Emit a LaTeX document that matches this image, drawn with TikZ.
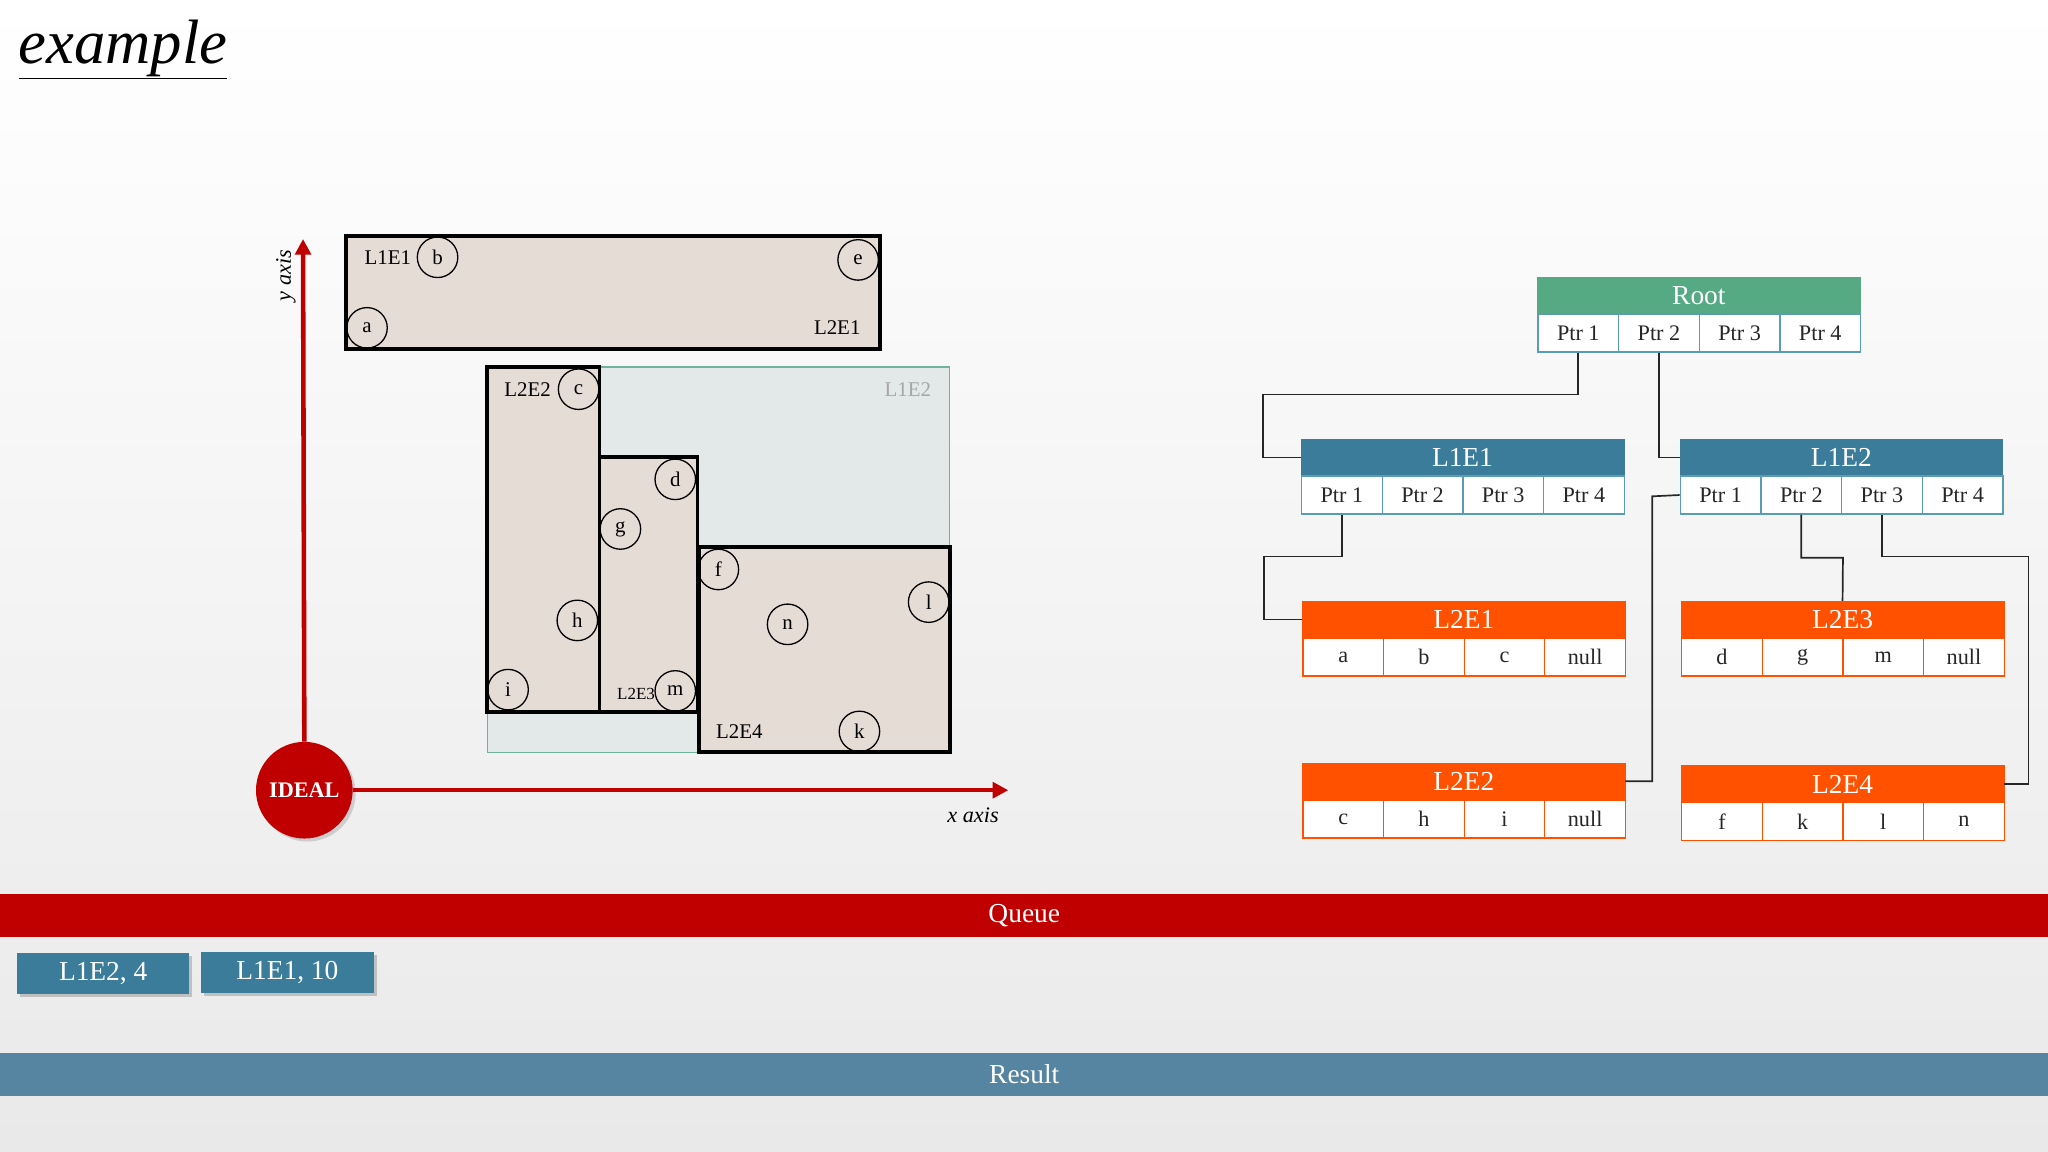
\documentclass[tikz,border=0pt]{standalone}
\usepackage{fontspec}
\setmainfont{Liberation Serif}
\usetikzlibrary{arrows.meta,shadows}
\definecolor{bgbot}{HTML}{E9E9E9}
\definecolor{redc}{HTML}{C00000}
\definecolor{greenh}{HTML}{55A983}
\definecolor{blueh}{HTML}{3B7C9B}
\definecolor{blueb}{HTML}{5A9BB8}
\definecolor{orah}{HTML}{FF5100}
\definecolor{resc}{HTML}{5585A0}
\definecolor{rectf}{HTML}{E6DCD6}
\definecolor{l1f}{HTML}{E3E8E9}
\definecolor{l1d}{HTML}{6FB39A}
\newcommand\tbox[9]{%
  \node[hdr,fill=#4,draw=#4] (#1-h) at (#2,#3) {#9};
  \foreach \k/\t in {#5} {
    \node[cell,draw=#6] (#1-\k) at ($(#2,#3)+(\k*61.75-61.75,28)$) {\t};
  }%
}
\usetikzlibrary{calc}
\begin{document}
\begin{tikzpicture}[x=1pt,y=-1pt,
  hdr/.style={anchor=north west,minimum width=247pt,minimum height=28pt,inner sep=0pt,text=white,font=\fontsize{21}{21}\selectfont},
  cell/.style={anchor=north west,minimum width=61.75pt,minimum height=29pt,inner sep=0pt,fill=white,line width=1pt,text=black!85,font=\fontsize{17}{17}\selectfont},
  pt/.style={circle,draw,line width=1pt,minimum size=31pt,inner sep=0pt,font=\fontsize{16}{16}\selectfont},
  rl/.style={font=\fontsize{16}{16}\selectfont,inner sep=0pt},
  rg/.style={line width=3pt,fill=rectf},
  conn/.style={line width=1.3pt,black!85},
  ax/.style={line width=3.5pt,redc,-{Triangle[length=12pt,width=12pt]}},
  qitem/.style={fill=blueh,text=white,minimum width=132pt,minimum height=31pt,inner sep=0pt,drop shadow={opacity=0.4},font=\fontsize{21}{21}\selectfont},
  bar/.style={minimum width=1568pt,minimum height=33pt,inner sep=0pt,anchor=north west,text=white,font=\fontsize{21}{21}\selectfont}]
\useasboundingbox (0,0) rectangle (1568,882);
\shade[top color=white,bottom color=bgbot] (0,0) rectangle (1568,882);
\node[anchor=west,inner sep=0pt,font=\fontsize{48}{48}\selectfont\itshape] (title) at (14,38) {\underline{example}};
% axes
\node[circle,fill=redc,minimum size=74pt,inner sep=0pt,text=white,font=\fontsize{17}{17}\selectfont\bfseries,drop shadow={opacity=0.3}] (ideal) at (233,605) {IDEAL};
\coordinate (ytip) at (232,183);
\coordinate (xtip) at (772,605);
\draw[ax] (ideal.north) -- (ytip);
\draw[ax] (ideal.east) -- (xtip);
\node[rotate=90,font=\fontsize{17}{17}\selectfont\itshape,inner sep=0pt] (ylab) at (219,211) {y axis};
\node[font=\fontsize{17}{17}\selectfont\itshape,inner sep=0pt] (xlab) at (745,624) {x axis};
% rectangles
\draw[l1d,line width=1pt,fill=l1f] (373,281) rectangle (727,576);
\node[rl,text=black!35] (l1e2lab) at (695,298) {L1E2};
\draw[rg] (265,181) rectangle (674,267);
\draw[rg] (373,281) rectangle (459,545);
\draw[rg] (459,350) rectangle (534,545);
\draw[rg] (535,419) rectangle (727,576);
\node[rl] (r1) at (297,197) {L1E1};
\node[rl] (r2) at (641,251) {L2E1};
\node[rl] (r3) at (404,298) {L2E2};
\node[rl,font=\fontsize{13}{13}\selectfont] (r4) at (487,531) {L2E3};
\node[rl] (r5) at (566,560) {L2E4};
\foreach \n/\x/\y in {b/335/197,e/657/199,a/281/251,c/443/298,d/517/367,g/475/405,h/442/475,i/389/528,m/517/529,f/550/436,n/603/478,l/711/461,k/658/560}
  \node[pt] (p\n) at (\x,\y) {\n};
% tree
\tbox{root}{1177}{212}{greenh}{1/Ptr 1,2/Ptr 2,3/Ptr 3,4/Ptr 4}{blueb}{}{}{Root}
\tbox{la}{996}{336}{blueh}{1/Ptr 1,2/Ptr 2,3/Ptr 3,4/Ptr 4}{blueb}{}{}{L1E1}
\tbox{lb}{1286}{336}{blueh}{1/Ptr 1,2/Ptr 2,3/Ptr 3,4/Ptr 4}{blueb}{}{}{L1E2}
\tbox{ea}{997}{460}{orah}{1/a,2/b,3/c,4/null}{orah}{}{}{L2E1}
\tbox{ec}{1287}{460}{orah}{1/d,2/g,3/m,4/null}{orah}{}{}{L2E3}
\tbox{eb}{997}{584}{orah}{1/c,2/h,3/i,4/null}{orah}{}{}{L2E2}
\tbox{ed}{1287}{586}{orah}{1/f,2/k,3/l,4/n}{orah}{}{}{L2E4}
\coordinate (k1) at (967,302);
\coordinate (k2) at (968,426);
\coordinate (k3) at (1265,380);
\coordinate (k4) at (1411,427);
\coordinate (k5) at (1553,426);
\draw[conn] (root-1.south) |- (k1) |- (la-h.west);
\draw[conn] (root-2.south) |- (lb-h.west);
\draw[conn] (la-1.south) |- (k2) |- (ea-h.west);
\draw[conn] (lb-1.west) -- (k3) |- (eb-h.east);
\draw[conn] (lb-2.south) |- (k4) -- (ec-h.north);
\draw[conn] (lb-3.south) |- (k5) |- (ed-h.east);
% queue / result
\node[bar,fill=redc] (queue) at (0,684) {Queue};
\node[qitem] (q1) at (79,745.5) {L1E2, 4};
\node[qitem] (q2) at (220,744.5) {L1E1, 10};
\node[bar,fill=resc] (result) at (0,806) {Result};
\end{tikzpicture}
\end{document}
